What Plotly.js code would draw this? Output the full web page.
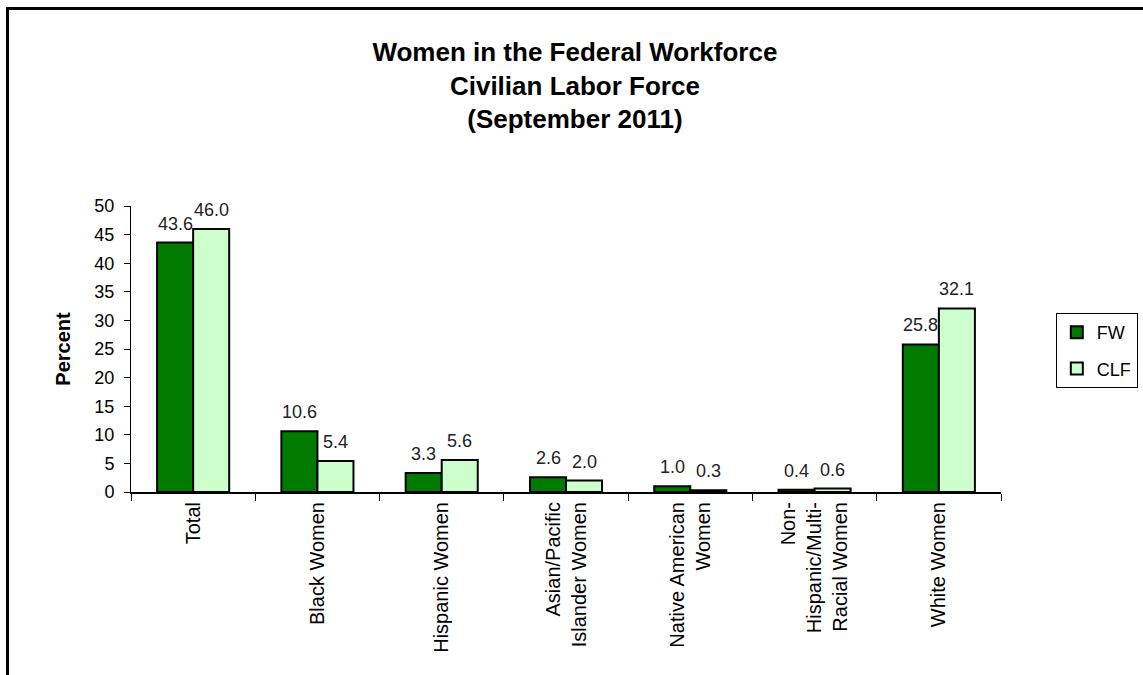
<!DOCTYPE html>
<html>
<head>
<meta charset="utf-8">
<script src="https://cdn.plot.ly/plotly-3.0.1.min.js"></script>
<style>
  html, body { margin: 0; padding: 0; background: #fff; }
  #wrap { position: relative; width: 1143px; height: 675px; overflow: hidden; }
  #chart { position: absolute; left: 0; top: 0; width: 1143px; height: 675px; }
  #frame { position: absolute; left: 6px; top: 7px; width: 1200px; height: 800px;
           border-left: 3px solid #000; border-top: 3px solid #000; pointer-events: none; }
</style>
</head>
<body>
<div id="wrap">
  <div id="chart"></div>
  <div id="frame"></div>
</div>
<script>
const categories = [
  "Total",
  "Black Women",
  "Hispanic Women",
  "Asian/Pacific<br>Islander Women",
  "Native American<br>Women",
  "Non-<br>Hispanic/Multi-<br>Racial Women",
  "White Women"
];
const fwValues  = [43.6, 10.6, 3.3, 2.6, 1.0, 0.4, 25.8];
const clfValues = [46.0, 5.4, 5.6, 2.0, 0.3, 0.6, 32.1];
const seriesNames = ["FW", "CLF"];
const yTicks = [0, 5, 10, 15, 20, 25, 30, 35, 40, 45, 50];

const FONT = '"Liberation Sans", Arial, sans-serif';

const traces = [
  {
    type: 'bar', name: seriesNames[0], x: categories, y: fwValues, legendgroup: 'g1',
    marker: { color: '#007a00', line: { color: '#000', width: 2 } },
    hoverinfo: 'y'
  },
  {
    type: 'bar', name: seriesNames[1], x: categories, y: clfValues, legendgroup: 'g2',
    marker: { color: '#ccffcc', line: { color: '#000', width: 2 } },
    hoverinfo: 'y'
  }
];

const annotations = [];
[fwValues, clfValues].forEach((vals, s) => {
  vals.forEach((v, i) => {
    annotations.push({
      x: categories[i], y: v, xref: 'x', yref: 'y',
      text: v.toFixed(1), showarrow: false,
      xanchor: 'center', yanchor: 'bottom',
      xshift: s === 0 ? -18 : 18, yshift: 7,
      font: { family: FONT, size: 18, color: '#222' }
    });
  });
});

const layout = {
  width: 1143, height: 675,
  paper_bgcolor: '#fff', plot_bgcolor: '#fff',
  margin: { l: 131, r: 142, t: 206, b: 183, autoexpand: false },
  font: { family: FONT, color: '#000' },
  title: {
    text: '<b>Women in the Federal Workforce<br>Civilian Labor Force<br>(September 2011)</b>',
    font: { family: FONT, size: 26, color: '#000' },
    x: 0.503, xref: 'container', xanchor: 'center',
    y: 0.91, yref: 'container', yanchor: 'top'
  },
  barmode: 'group',
  bargap: 0.42,
  bargroupgap: 0,
  showlegend: true,
  legend: {
    x: 1.063, xanchor: 'left', y: 0.626, yanchor: 'top',
    bgcolor: '#fff', bordercolor: '#000', borderwidth: 1,
    font: { family: FONT, size: 18, color: '#000' },
    itemwidth: 30, traceorder: 'grouped', tracegroupgap: 10
  },
  xaxis: {
    type: 'category',
    showline: true, linecolor: '#000', linewidth: 2,
    ticks: 'outside', tickson: 'boundaries', ticklen: 7, tickcolor: '#000', tickwidth: 1,
    tickangle: -90,
    tickfont: { family: FONT, size: 20, color: '#000' },
    showgrid: false, zeroline: false, automargin: false
  },
  yaxis: {
    range: [0, 50], autorange: false,
    tickvals: yTicks, ticktext: yTicks.map(String),
    showline: true, linecolor: '#000', linewidth: 1,
    ticks: 'outside', ticklen: 6, tickcolor: '#000',
    ticklabelstandoff: 6,
    tickfont: { family: FONT, size: 18, color: '#000' },
    showgrid: false, zeroline: false, automargin: false,
    title: { text: '<b>Percent</b>', font: { family: FONT, size: 20, color: '#000' }, standoff: 18 }
  },
  annotations: annotations
};

Plotly.newPlot('chart', traces, layout, { displayModeBar: false, staticPlot: true });
</script>
</body>
</html>
